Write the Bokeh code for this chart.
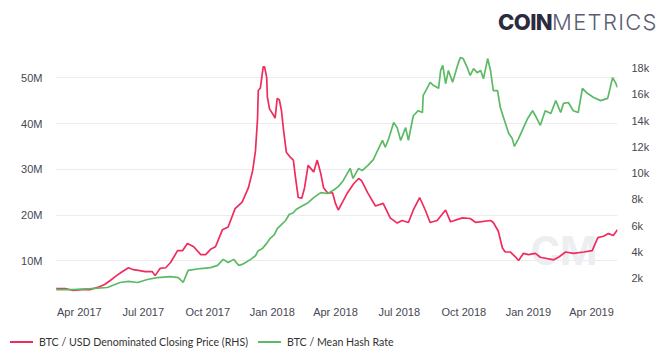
import pandas as pd
from bokeh.plotting import figure
from bokeh.layouts import column
from bokeh.models import (Range1d, LinearAxis, FixedTicker, DatetimeTickFormatter,
                          Label, Div)
from bokeh.embed import file_html
from bokeh.resources import INLINE

# ---------------- data ----------------
price_dates = [
    "2017-02-27", "2017-03-12", "2017-03-23", "2017-04-05", "2017-04-17", "2017-04-27",
    "2017-05-07", "2017-05-15", "2017-05-24", "2017-06-01", "2017-06-10", "2017-06-17",
    "2017-06-24", "2017-07-04", "2017-07-14", "2017-07-18", "2017-07-25", "2017-08-02",
    "2017-08-09", "2017-08-19", "2017-08-26", "2017-09-02", "2017-09-11", "2017-09-21",
    "2017-09-28", "2017-10-05", "2017-10-12", "2017-10-22", "2017-10-30", "2017-11-09",
    "2017-11-19", "2017-11-28", "2017-12-04", "2017-12-08", "2017-12-11", "2017-12-12",
    "2017-12-15", "2017-12-19", "2017-12-21", "2017-12-24", "2017-12-25", "2017-12-28",
    "2018-01-03", "2018-01-05", "2018-01-08", "2018-01-11", "2018-01-14", "2018-01-17",
    "2018-01-21", "2018-01-27", "2018-01-31", "2018-02-03", "2018-02-07", "2018-02-12",
    "2018-02-16", "2018-02-21", "2018-03-01", "2018-03-06", "2018-03-11", "2018-03-15",
    "2018-03-21", "2018-03-28", "2018-04-01", "2018-04-05", "2018-04-12", "2018-04-18",
    "2018-04-27", "2018-05-04", "2018-05-08", "2018-05-17", "2018-05-28", "2018-06-08",
    "2018-06-18", "2018-06-28", "2018-07-05", "2018-07-14", "2018-07-21", "2018-07-30",
    "2018-08-07", "2018-08-14", "2018-08-24", "2018-09-05", "2018-09-12", "2018-09-29",
    "2018-10-10", "2018-10-18", "2018-11-08", "2018-11-12", "2018-11-19", "2018-11-25",
    "2018-11-29", "2018-12-06", "2018-12-14", "2018-12-18", "2018-12-25", "2019-01-01",
    "2019-01-11", "2019-01-18", "2019-02-06", "2019-02-13", "2019-02-23", "2019-03-06",
    "2019-03-21", "2019-04-02", "2019-04-10", "2019-04-18", "2019-04-25", "2019-05-02",
    "2019-05-08",
]
price_k = [
    1.22, 1.22, 1.07, 1.14, 1.14, 1.30,
    1.52, 1.83, 2.20, 2.50, 2.80, 2.65,
    2.60, 2.50, 2.50, 2.20, 2.75, 2.80,
    3.20, 4.10, 4.10, 4.65, 4.40, 3.80,
    3.80, 4.20, 4.40, 5.70, 5.90, 7.30,
    7.80, 8.90, 10.2, 11.7, 14.2, 16.3,
    16.5, 18.1, 18.1, 17.3, 15.8, 14.9,
    14.4, 14.2, 15.7, 15.6, 14.8, 13.3,
    11.6, 11.2, 11.0, 9.70, 8.15, 8.10,
    8.90, 10.6, 10.1, 11.0, 10.0, 8.90,
    8.50, 8.50, 7.70, 7.20, 7.90, 8.50,
    9.20, 9.60, 9.45, 8.50, 7.50, 7.70,
    6.60, 6.20, 6.40, 6.25, 7.20, 8.15,
    7.20, 6.25, 6.40, 7.20, 6.30, 6.60,
    6.55, 6.25, 6.40, 6.25, 5.60, 4.30,
    4.00, 4.00, 3.60, 3.35, 3.90, 3.80,
    3.90, 3.60, 3.40, 3.60, 4.00, 3.90,
    4.00, 4.10, 5.10, 5.20, 5.40, 5.25,
    5.70,
]

hash_dates = [
    "2017-02-27", "2017-03-23", "2017-04-17", "2017-05-11", "2017-05-29", "2017-06-10",
    "2017-06-23", "2017-07-07", "2017-07-21", "2017-08-09", "2017-08-20", "2017-08-27",
    "2017-09-03", "2017-09-21", "2017-10-05", "2017-10-15", "2017-10-23", "2017-10-30",
    "2017-11-07", "2017-11-14", "2017-11-19", "2017-11-24", "2017-12-01", "2017-12-08",
    "2017-12-12", "2017-12-18", "2017-12-24", "2017-12-29", "2018-01-04", "2018-01-08",
    "2018-01-14", "2018-01-20", "2018-01-25", "2018-01-31", "2018-02-04", "2018-02-08",
    "2018-02-21", "2018-03-01", "2018-03-11", "2018-03-21", "2018-03-29", "2018-04-05",
    "2018-04-12", "2018-04-22", "2018-04-26", "2018-05-04", "2018-05-09", "2018-05-17",
    "2018-05-25", "2018-05-31", "2018-06-07", "2018-06-11", "2018-06-16", "2018-06-23",
    "2018-06-28", "2018-07-03", "2018-07-10", "2018-07-14", "2018-07-21", "2018-07-28",
    "2018-08-03", "2018-08-04", "2018-08-14", "2018-08-19", "2018-08-26", "2018-08-29",
    "2018-09-01", "2018-09-05", "2018-09-09", "2018-09-15", "2018-09-22", "2018-09-26",
    "2018-09-30", "2018-10-06", "2018-10-10", "2018-10-15", "2018-10-20", "2018-10-25",
    "2018-10-29", "2018-11-04", "2018-11-08", "2018-11-12", "2018-11-18", "2018-11-22",
    "2018-11-27", "2018-12-04", "2018-12-09", "2018-12-12", "2018-12-18", "2018-12-25",
    "2018-12-31", "2019-01-07", "2019-01-11", "2019-01-18", "2019-01-25", "2019-02-02",
    "2019-02-09", "2019-02-16", "2019-02-20", "2019-02-27", "2019-03-06", "2019-03-13",
    "2019-03-19", "2019-03-26", "2019-04-04", "2019-04-14", "2019-04-24", "2019-05-01",
    "2019-05-05", "2019-05-08",
]
hash_m = [
    3.7, 3.7, 3.9, 4.15, 5.25, 5.5,
    5.25, 5.9, 6.3, 6.55, 6.3, 5.25,
    7.9, 8.3, 8.5, 9.0, 10.3, 9.6,
    10.3, 9.0, 9.2, 9.6, 10.3, 11.1,
    12.2, 12.7, 13.8, 14.9, 15.7, 17.0,
    17.9, 18.8, 20.1, 20.5, 21.2, 21.6,
    22.7, 23.8, 24.9, 24.7, 25.4, 26.2,
    27.5, 30.2, 28.0, 30.2, 29.7, 30.8,
    32.1, 34.1, 36.3, 34.8, 36.7, 40.2,
    39.1, 36.3, 39.1, 36.3, 41.7, 42.8,
    42.4, 46.1, 49.0, 48.3, 47.7, 51.6,
    52.7, 48.7, 51.6, 49.0, 52.7, 54.4,
    54.2, 52.2, 50.5, 52.0, 51.1, 51.6,
    49.8, 54.2, 51.6, 47.2, 47.2, 43.5,
    41.1, 37.8, 36.7, 35.0, 36.7, 39.1,
    41.1, 42.8, 41.7, 39.6, 42.8, 42.2,
    45.0, 42.4, 44.4, 44.6, 42.8, 42.4,
    47.7, 46.6, 45.7, 45.0, 45.5, 50.0,
    49.0, 47.9,
]

x_tick_dates = ["2017-04-01", "2017-07-01", "2017-10-01", "2018-01-01", "2018-04-01",
                "2018-07-01", "2018-10-01", "2019-01-01", "2019-04-01"]
left_ticks = [10, 20, 30, 40, 50]
left_labels = ["10M", "20M", "30M", "40M", "50M"]
right_ticks = [2, 4, 6, 8, 10, 12, 14, 16, 18]
right_labels = ["2k", "4k", "6k", "8k", "10k", "12k", "14k", "16k", "18k"]

price_name = "BTC / USD Denominated Closing Price (RHS)"
hash_name = "BTC / Mean Hash Rate"

RED = "#ef2c5c"
GREEN = "#5cba66"
AXIS_FONT = "Liberation Sans"
LABEL_COLOR = "#474751"

# ---------------- figure ----------------
px = pd.to_datetime(price_dates)
hx = pd.to_datetime(hash_dates)

x_start = pd.Timestamp("2017-02-26")
x_end = pd.Timestamp("2019-05-08")

LOGO_H = 40
LEGEND_H = 25
FIG_H = 351 - LOGO_H - LEGEND_H

p = figure(width=666, height=FIG_H, x_axis_type="datetime",
           x_range=Range1d(x_start, x_end), y_range=Range1d(3.06, 55.96),
           output_backend="svg", toolbar_location=None,
           min_border_left=55, min_border_right=49,
           min_border_top=50 - LOGO_H, min_border_bottom=LOGO_H + FIG_H - 292,
           margin=(0, 0, 0, 0))
p.extra_y_ranges = {"price": Range1d(0.914, 19.35)}
p.outline_line_color = None
p.background_fill_color = "white"
p.border_fill_color = "white"

# watermark
wm = Label(x=475, y=42, x_units="screen", y_units="screen", text="CM",
           text_font="Inter", text_font_size="40px", text_font_style="bold",
           text_color="#eceef2", text_baseline="middle", text_align="left", level="underlay")
p.add_layout(wm)

r_price = p.line(px, price_k, y_range_name="price", color=RED, line_width=1.7)
r_hash = p.line(hx, hash_m, color=GREEN, line_width=1.7)

# x axis
xa = p.xaxis[0]
xa.ticker = FixedTicker(ticks=[pd.Timestamp(d).value / 1e6 for d in x_tick_dates])
fmt = "%b %Y"
xa.formatter = DatetimeTickFormatter(milliseconds=fmt, seconds=fmt, minsec=fmt, minutes=fmt,
                                     hourmin=fmt, hours=fmt, days=fmt, months=fmt, years=fmt)
xa.axis_line_color = None
xa.major_tick_line_color = None
xa.minor_tick_line_color = None
xa.major_label_standoff = 7
xa.major_label_text_font = AXIS_FONT
xa.major_label_text_font_size = "11px"
xa.major_label_text_color = LABEL_COLOR

# left axis (hash rate)
ya = p.yaxis[0]
ya.ticker = FixedTicker(ticks=left_ticks)
ya.major_label_overrides = {t: l for t, l in zip(left_ticks, left_labels)}
ya.axis_line_color = None
ya.major_tick_line_color = None
ya.minor_tick_line_color = None
ya.major_label_standoff = 7
ya.major_label_text_font = AXIS_FONT
ya.major_label_text_font_size = "11px"
ya.major_label_text_color = LABEL_COLOR

# right axis (price)
ra = LinearAxis(y_range_name="price", ticker=FixedTicker(ticks=right_ticks))
ra.major_label_overrides = {t: l for t, l in zip(right_ticks, right_labels)}
ra.axis_line_color = None
ra.major_tick_line_color = None
ra.minor_tick_line_color = None
ra.major_label_standoff = 8
ra.major_label_text_font = AXIS_FONT
ra.major_label_text_font_size = "11px"
ra.major_label_text_color = LABEL_COLOR
p.add_layout(ra, "right")

p.xgrid.visible = False
p.ygrid.ticker = FixedTicker(ticks=left_ticks)
p.ygrid.grid_line_color = "#ececec"
p.ygrid.grid_line_width = 1

# ---------------- logo (top) ----------------
logo_html = (
    '<div style="margin:0;padding:10px 0 0 498px;white-space:nowrap;'
    'font-family:Inter, Roboto, sans-serif;font-size:22px;line-height:24px;">'
    '<span style="font-weight:800;color:#2a2b3d;letter-spacing:-0.6px;">COIN</span>'
    '<span style="font-weight:300;color:#5b5d70;letter-spacing:1.3px;">METRICS</span>'
    '</div>'
)
logo = Div(text=logo_html, width=666, height=LOGO_H, margin=(0, 0, 0, 0))

# ---------------- legend (bottom) ----------------
def swatch(color, left):
    return ('<span style="display:inline-block;width:23px;height:2px;background:%s;'
            'vertical-align:middle;margin-left:%dpx;margin-right:6px;"></span>' % (color, left))

legend_html = (
    '<div style="margin:0;padding:8px 0 0 0;white-space:nowrap;font-family:Lato, sans-serif;'
    'font-size:10.6px;line-height:14px;color:#333333;">'
    + swatch(RED, 10) + '<span style="vertical-align:middle;">' + price_name + '</span>'
    + swatch(GREEN, 10) + '<span style="vertical-align:middle;">' + hash_name + '</span>'
    + '</div>'
)
legend = Div(text=legend_html, width=666, height=LEGEND_H, margin=(0, 0, 0, 0))

layout = column(logo, p, legend, spacing=0, margin=(0, 0, 0, 0))

open("out.html", "w").write(file_html(layout, INLINE))
